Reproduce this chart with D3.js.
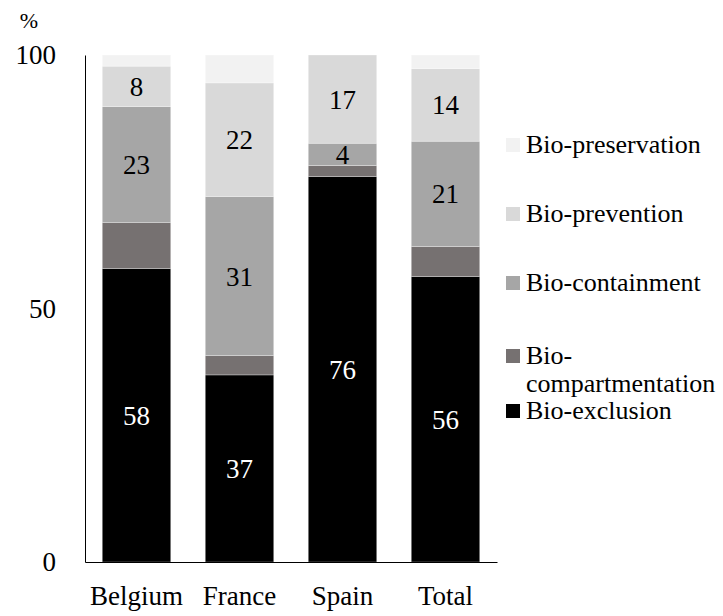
<!DOCTYPE html>
<html>
<head>
<meta charset="utf-8">
<script src="https://cdn.jsdelivr.net/npm/d3@7"></script>
</head>
<body style="margin:0">
<div id="chart"></div>
<script>
// data (percent)
var countries = ['Belgium', 'France', 'Spain', 'Total'];
var series = ['Bio-exclusion', 'Bio-compartmentation', 'Bio-containment', 'Bio-prevention', 'Bio-preservation'];
var exclusion        = [57.9, 36.9, 76.0, 56.3];
var compartment      = [9.1, 3.8, 2.2, 5.9];
var containment      = [22.8, 31.4, 4.4, 20.8];
var prevention       = [8.0, 22.4, 17.4, 14.3];
var preservation     = [2.2, 5.5, 0, 2.7];
var yTicks = [0, 50, 100];
var labelled = ['Bio-exclusion', 'Bio-containment', 'Bio-prevention'];

var colors = ['#000000', '#767171', '#a6a6a6', '#d9d9d9', '#f2f2f2'];
var serif = "'Liberation Serif', 'Times New Roman', serif";

var width = 723, height = 616;
var svg = d3.select('#chart').append('svg')
  .attr('width', width)
  .attr('height', height);

var rows = countries.map(function(c, i) {
  return {
    country: c,
    'Bio-exclusion': exclusion[i],
    'Bio-compartmentation': compartment[i],
    'Bio-containment': containment[i],
    'Bio-prevention': prevention[i],
    'Bio-preservation': preservation[i]
  };
});
var stacked = d3.stack().keys(series)(rows);

var x = d3.scaleBand().domain(countries).range([85, 497]).paddingInner(0.335).paddingOuter(0.1675);
var y = d3.scaleLinear().domain([0, 100]).range([562, 55]);
var color = d3.scaleOrdinal().domain(series).range(colors);

// bars
var layers = svg.append('g').selectAll('g')
  .data(stacked)
  .enter().append('g')
  .attr('fill', function(d) { return color(d.key); });

layers.selectAll('rect')
  .data(function(d) { return d; })
  .enter().append('rect')
  .attr('x', function(d) { return x(d.data.country); })
  .attr('width', x.bandwidth())
  .attr('y', function(d) { return y(d[1]); })
  .attr('height', function(d) { return y(d[0]) - y(d[1]); })
  .attr('stroke', '#ffffff')
  .attr('stroke-opacity', 0.5)
  .attr('stroke-width', 0.6);

// value labels
var fmt = d3.format('.0f');
layers.filter(function(d) { return labelled.indexOf(d.key) >= 0; })
  .selectAll('text')
  .data(function(d) { return d.map(function(p) { return {p: p, key: d.key}; }); })
  .enter().append('text')
  .attr('x', function(d) { return x(d.p.data.country) + x.bandwidth() / 2; })
  .attr('y', function(d) { return (y(d.p[0]) + y(d.p[1])) / 2; })
  .attr('dy', '0.35em')
  .attr('text-anchor', 'middle')
  .style('font-family', serif)
  .attr('font-size', 27)
  .attr('fill', function(d) { return d.key === 'Bio-exclusion' ? '#ffffff' : '#000000'; })
  .text(function(d) { return fmt(d.p[1] - d.p[0]); });

// y axis
var axisY = d3.axisLeft(y).tickValues(yTicks).tickSize(0).tickPadding(29);
var axisYG = svg.append('g')
  .attr('transform', 'translate(85,0)')
  .call(axisY);
axisYG.attr('font-family', null).attr('font-size', null);
axisYG.select('.domain').attr('stroke', '#000').attr('stroke-width', 1);
axisYG.selectAll('text').attr('fill', '#000')
  .style('font-family', serif).attr('font-size', 27);

// x axis
var axisX = d3.axisBottom(x).tickSize(0).tickPadding(24);
var axisXG = svg.append('g')
  .attr('transform', 'translate(0,562)')
  .call(axisX);
axisXG.attr('font-family', null).attr('font-size', null);
axisXG.select('.domain').attr('stroke', '#000').attr('stroke-width', 1);
axisXG.selectAll('text').attr('fill', '#000')
  .style('font-family', serif).attr('font-size', 27);

svg.append('text')
  .attr('x', 29).attr('y', 28)
  .attr('text-anchor', 'middle')
  .style('font-family', serif)
  .attr('font-size', 22)
  .text('%');

// legend (top to bottom, reversed order)
var legendY = [145, 214, 283, 356, 411];
var legendItems = series.slice().reverse();
var legend = svg.append('g').selectAll('g')
  .data(legendItems)
  .enter().append('g')
  .attr('transform', function(d, i) { return 'translate(506,' + legendY[i] + ')'; });

legend.append('rect')
  .attr('x', 0).attr('y', -7)
  .attr('width', 14).attr('height', 14)
  .attr('fill', function(d) { return color(d); });

legend.append('text')
  .attr('x', 20).attr('y', 8)
  .style('font-family', serif)
  .attr('font-size', 26)
  .each(function(d) {
    var t = d3.select(this);
    if (d === 'Bio-compartmentation') {
      t.append('tspan').attr('x', 20).text('Bio-');
      t.append('tspan').attr('x', 20).attr('dy', 28).text('compartmentation');
    } else {
      t.text(d);
    }
  });
</script>
</body>
</html>
